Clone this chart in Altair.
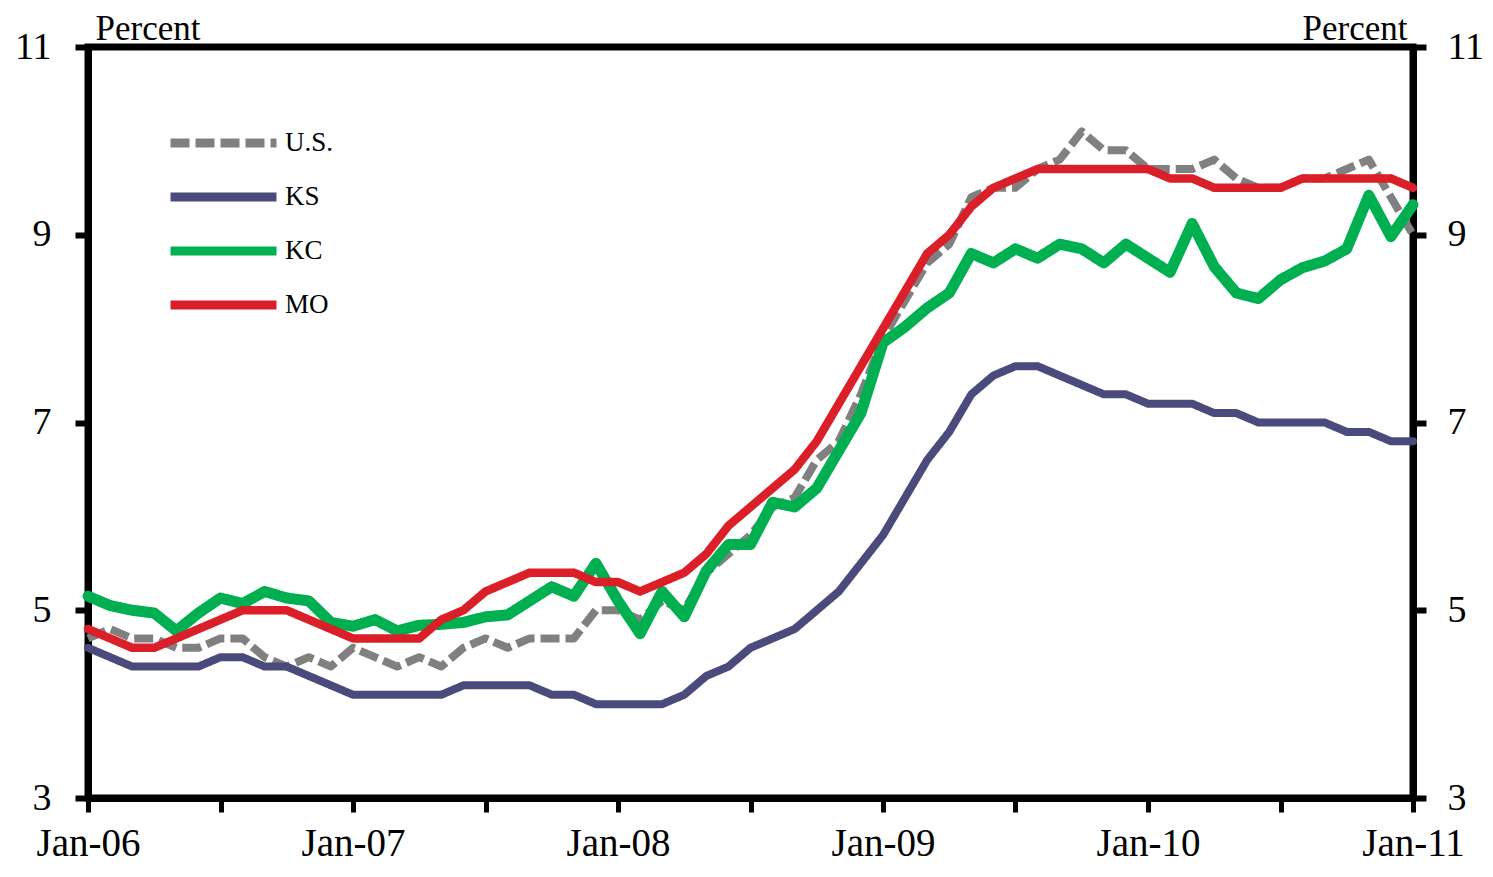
import altair as alt
import pandas as pd

series_names = ["U.S.", "KS", "KC", "MO"]
series_colors = ["#808080", "#4B4A7C", "#00B050", "#DA1F28"]
series_widths = [8, 8, 11, 8.5]
series_dashes = [[19, 6], [1, 0], [1, 0], [1, 0]]
series_caps = ["butt", "round", "round", "round"]

x_tick_labels = ["Jan-06", "Jan-07", "Jan-08", "Jan-09", "Jan-10", "Jan-11"]

US = [4.7, 4.8, 4.7, 4.7, 4.6, 4.6, 4.7, 4.7, 4.5, 4.4, 4.5, 4.4,
      4.6, 4.5, 4.4, 4.5, 4.4, 4.6, 4.7, 4.6, 4.7, 4.7, 4.7, 5.0,
      5.0, 4.9, 5.1, 5.0, 5.4, 5.6, 5.8, 6.1, 6.2, 6.6, 6.8, 7.3,
      7.9, 8.3, 8.7, 8.9, 9.4, 9.5, 9.5, 9.7, 9.8, 10.1, 9.9, 9.9,
      9.7, 9.7, 9.7, 9.8, 9.6, 9.5, 9.5, 9.6, 9.6, 9.7, 9.8, 9.4,
      9.0]
KS = [4.6, 4.5, 4.4, 4.4, 4.4, 4.4, 4.5, 4.5, 4.4, 4.4, 4.3, 4.2,
      4.1, 4.1, 4.1, 4.1, 4.1, 4.2, 4.2, 4.2, 4.2, 4.1, 4.1, 4.0,
      4.0, 4.0, 4.0, 4.1, 4.3, 4.4, 4.6, 4.7, 4.8, 5.0, 5.2, 5.5,
      5.8, 6.2, 6.6, 6.9, 7.3, 7.5, 7.6, 7.6, 7.5, 7.4, 7.3, 7.3,
      7.2, 7.2, 7.2, 7.1, 7.1, 7.0, 7.0, 7.0, 7.0, 6.9, 6.9, 6.8,
      6.8]
KC = [5.15, 5.05, 5.0, 4.97, 4.78, 4.97, 5.13, 5.07, 5.2, 5.13, 5.1, 4.87,
      4.83, 4.9, 4.78, 4.84, 4.85, 4.87, 4.93, 4.95, 5.1, 5.25, 5.15, 5.5,
      5.1, 4.75, 5.2, 4.93, 5.42, 5.7, 5.7, 6.15, 6.1, 6.3, 6.7, 7.1,
      7.85, 8.02, 8.22, 8.38, 8.8, 8.7, 8.85, 8.75, 8.9, 8.85, 8.7, 8.9,
      8.75, 8.6, 9.12, 8.66, 8.38, 8.32, 8.52, 8.65, 8.72, 8.85, 9.42, 8.98,
      9.32]
MO = [4.8, 4.7, 4.6, 4.6, 4.7, 4.8, 4.9, 5.0, 5.0, 5.0, 4.9, 4.8,
      4.7, 4.7, 4.7, 4.7, 4.9, 5.0, 5.2, 5.3, 5.4, 5.4, 5.4, 5.3,
      5.3, 5.2, 5.3, 5.4, 5.6, 5.9, 6.1, 6.3, 6.5, 6.8, 7.2, 7.6,
      8.0, 8.4, 8.8, 9.0, 9.3, 9.5, 9.6, 9.7, 9.7, 9.7, 9.7, 9.7,
      9.7, 9.6, 9.6, 9.5, 9.5, 9.5, 9.5, 9.6, 9.6, 9.6, 9.6, 9.6,
      9.5]

rows = []
for name, vals in zip(series_names, [US, KS, KC, MO]):
    for i, v in enumerate(vals):
        rows.append({"m": i, "value": v, "series": name})
df = pd.DataFrame(rows)

FONT = "Liberation Serif"

label_expr = " : ".join(
    f"datum.value == {12 * k} ? '{lab}'" for k, lab in enumerate(x_tick_labels)
) + " : ''"

x_enc = alt.X(
    "m:Q",
    scale=alt.Scale(domain=[0, 60], nice=False, zero=False),
    axis=alt.Axis(
        values=list(range(0, 61, 6)), labelExpr=label_expr, title=None,
        tickSize=14, tickWidth=5, tickColor="black", domainWidth=7, domainColor="black",
        labelFont=FONT, labelFontSize=39, labelColor="black", labelPadding=12,
        labelFlush=False, labelOverlap=False, labelAngle=0, grid=False,
    ),
)

y_scale = alt.Scale(domain=[3, 11], nice=False, zero=False)


def y_axis(orient):
    return alt.Axis(
        orient=orient, values=[3, 5, 7, 9, 11], tickSize=13, tickWidth=6,
        tickColor="black", domainWidth=7, domainColor="black",
        labelFont=FONT, labelFontSize=38, labelColor="black",
        labelPadding=24 if orient == "left" else 21,
        labelFlush=False, labelOverlap=False, grid=False,
        title="Percent", titleFont=FONT, titleFontSize=35, titleFontWeight="normal",
        titleColor="black", titleAngle=0,
        titleX=7 if orient == "left" else -6, titleY=-8,
        titleAlign="left" if orient == "left" else "right", titleBaseline="alphabetic",
    )


legend = alt.Legend(
    title=None, orient="none", legendX=78, legendY=81, symbolType="stroke",
    symbolSize=106 * 106, symbolStrokeWidth=9, labelFont=FONT, labelFontSize=27,
    labelColor="black", clipHeight=30, rowPadding=24, padding=0, labelOffset=4,
)

color_enc = alt.Color("series:N", scale=alt.Scale(domain=series_names, range=series_colors), legend=legend)
dash_enc = alt.StrokeDash("series:N", scale=alt.Scale(domain=series_names, range=series_dashes), legend=legend)

layers = []
for idx, name in enumerate(series_names):
    if idx == 0:
        y_enc = alt.Y("value:Q", scale=y_scale, axis=y_axis("left"))
    elif idx == len(series_names) - 1:
        y_enc = alt.Y("value:Q", scale=y_scale, axis=y_axis("right"))
    else:
        y_enc = alt.Y("value:Q", scale=y_scale, axis=None)
    layer = (
        alt.Chart(df)
        .transform_filter(alt.datum.series == name)
        .mark_line(strokeCap=series_caps[idx], strokeJoin="round", strokeWidth=series_widths[idx])
        .encode(x=x_enc, y=y_enc, color=color_enc, strokeDash=dash_enc)
    )
    layers.append(layer)

chart = (
    alt.layer(*layers)
    .resolve_axis(y="independent")
    .properties(
        width=1325, height=751,
        autosize=alt.AutoSizeParams(type="none"),
        padding={"left": 80, "top": 39, "right": 72, "bottom": 71},
        background="white",
    )
    .configure_view(stroke="black", strokeWidth=7)
)

chart.save("out.html", embed_options={"renderer": "svg", "actions": False})
